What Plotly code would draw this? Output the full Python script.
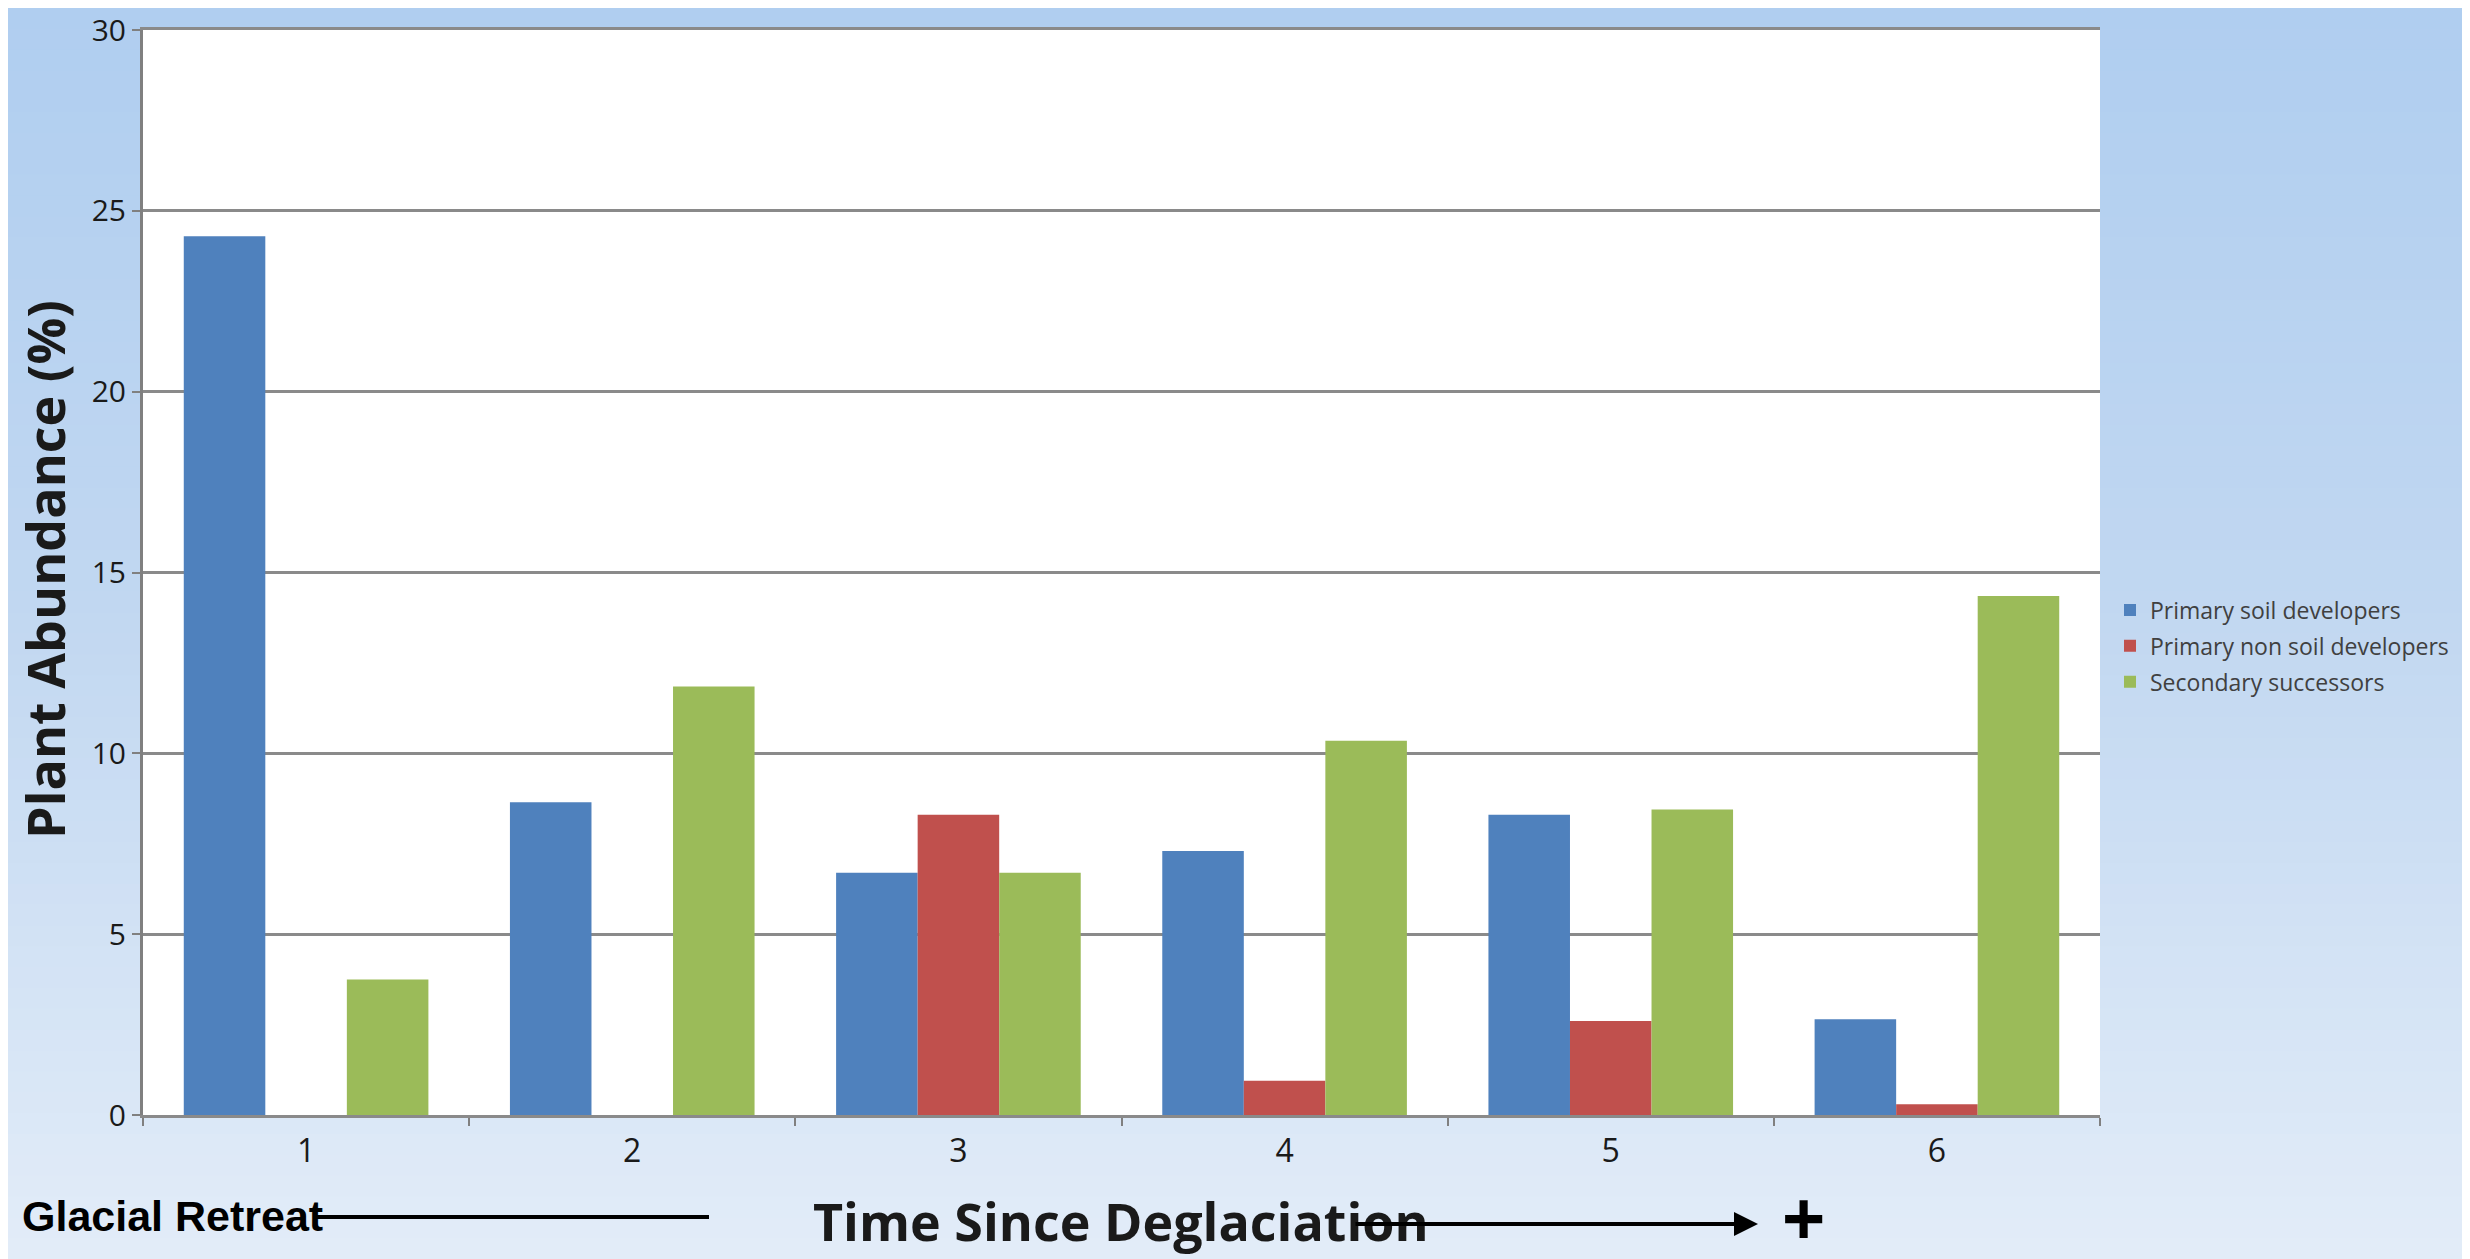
import plotly.graph_objects as go

categories = ["1", "2", "3", "4", "5", "6"]
primary_soil = [24.3, 8.65, 6.7, 7.3, 8.3, 2.65]
primary_non_soil = [0, 0, 8.3, 0.95, 2.6, 0.3]
secondary = [3.75, 11.85, 6.7, 10.35, 8.45, 14.35]
series_names = ["Primary soil developers", "Primary non soil developers", "Secondary successors"]
colors = ["#4F81BD", "#C0504D", "#9BBB59"]

# page body has an 8px margin, so work in reference pixels shifted by OFF
OFF = 8
W, H = 2470 - OFF, 1259 - OFF
L, T = 143 - OFF, 30 - OFF
R = W - (2100 - OFF)
B = H - (1115 - OFF)
pw, ph = W - L - R, H - T - B

def px(x):
    """reference pixel x -> paper"""
    return (x - OFF - L) / pw

def py(y):
    """reference pixel y -> paper"""
    return (H - B - (y - OFF)) / ph

fig = go.Figure()
for i, (name, vals) in enumerate(zip(series_names, [primary_soil, primary_non_soil, secondary])):
    fig.add_trace(go.Bar(x=categories, y=vals, name=name, legendgroup=f"g{i}",
                         marker=dict(color=colors[i], line=dict(width=0))))

# gradient background strips
shapes = []
n = 60
top = (176, 206, 240)
mid = (194, 216, 241)
bot = (226, 236, 248)
for k in range(n):
    t = k / (n - 1)
    if t < 0.5:
        u = t / 0.5
        c = tuple(round(top[j] + (mid[j] - top[j]) * u) for j in range(3))
    else:
        u = (t - 0.5) / 0.5
        c = tuple(round(mid[j] + (bot[j] - mid[j]) * u) for j in range(3))
    ytop = OFF + H * k / n
    ybot = OFF + H * (k + 1) / n + 1
    shapes.append(dict(type="rect", xref="paper", yref="paper", x0=px(0), x1=px(2480),
                       y0=py(ybot), y1=py(ytop),
                       fillcolor=f"rgb{c}", line=dict(width=0), layer="below"))
# white plot area
shapes.append(dict(type="rect", xref="paper", yref="paper", x0=0, x1=1, y0=0, y1=1,
                   fillcolor="white", line=dict(width=0), layer="below"))
# glacial retreat line (no arrowhead)
shapes.append(dict(type="line", xref="paper", yref="paper", x0=px(314), x1=px(709), y0=py(1217), y1=py(1217),
                   line=dict(color="black", width=4)))

annotations = [
    dict(text="<b>Plant Abundance (%)</b>", xref="paper", yref="paper", x=px(44), y=py(570),
         textangle=-90, showarrow=False, font=dict(family="Open Sans", size=52, color="#1a1a1a"),
         xanchor="center", yanchor="middle"),
    dict(text="<b>Time Since Deglaciation</b>", xref="paper", yref="paper", x=px(1121), y=py(1258),
         showarrow=False, font=dict(family="Open Sans", size=52, color="#1a1a1a"),
         xanchor="center", yanchor="bottom"),
    dict(text="<b>Glacial Retreat</b>", xref="paper", yref="paper", x=px(20), y=py(1216),
         showarrow=False, font=dict(family="Liberation Sans", size=43, color="black"),
         xanchor="left", yanchor="middle"),
    dict(text="<b>+</b>", xref="paper", yref="paper", x=px(1803), y=py(1262),
         showarrow=False, font=dict(family="Liberation Sans", size=74, color="black"),
         xanchor="center", yanchor="bottom"),
    dict(text="", xref="paper", yref="paper", axref="pixel", ayref="pixel",
         x=px(1758), y=py(1224), ax=-(1758 - 1354), ay=0,
         showarrow=True, arrowhead=2, arrowsize=1.2, arrowwidth=4, arrowcolor="black"),
]

fig.update_layout(
    width=W, height=H,
    margin=dict(l=L, r=R, t=T, b=B, autoexpand=False),
    paper_bgcolor="#c4d9f2",
    plot_bgcolor="rgba(0,0,0,0)",
    barmode="group", bargap=0.25, bargroupgap=0,
    shapes=shapes, annotations=annotations,
    showlegend=True,
    legend=dict(x=px(2110), y=py(646), xanchor="left", yanchor="middle",
                font=dict(family="Open Sans", size=23, color="#404040"),
                bgcolor="rgba(0,0,0,0)", itemwidth=30, tracegroupgap=3),
    font=dict(family="Open Sans", color="#1a1a1a"),
)
fig.update_xaxes(type="category", automargin=False, showline=True, mirror=True,
                 linecolor="#8a8a8a", linewidth=3,
                 ticks="outside", tickson="boundaries", ticklen=8, tickcolor="#808080", tickwidth=2,
                 ticklabelstandoff=6,
                 tickfont=dict(size=32, color="#1a1a1a"), showgrid=False)
fig.update_yaxes(range=[0, 30], dtick=5, automargin=False, showline=True, linecolor="#808080", linewidth=3,
                 ticks="outside", ticklen=8, tickcolor="#808080", tickwidth=2,
                 ticklabeloverflow="allow",
                 gridcolor="#8a8a8a", gridwidth=3, zeroline=False,
                 tickfont=dict(size=30, color="#1a1a1a"))

fig.write_html("out.html")
